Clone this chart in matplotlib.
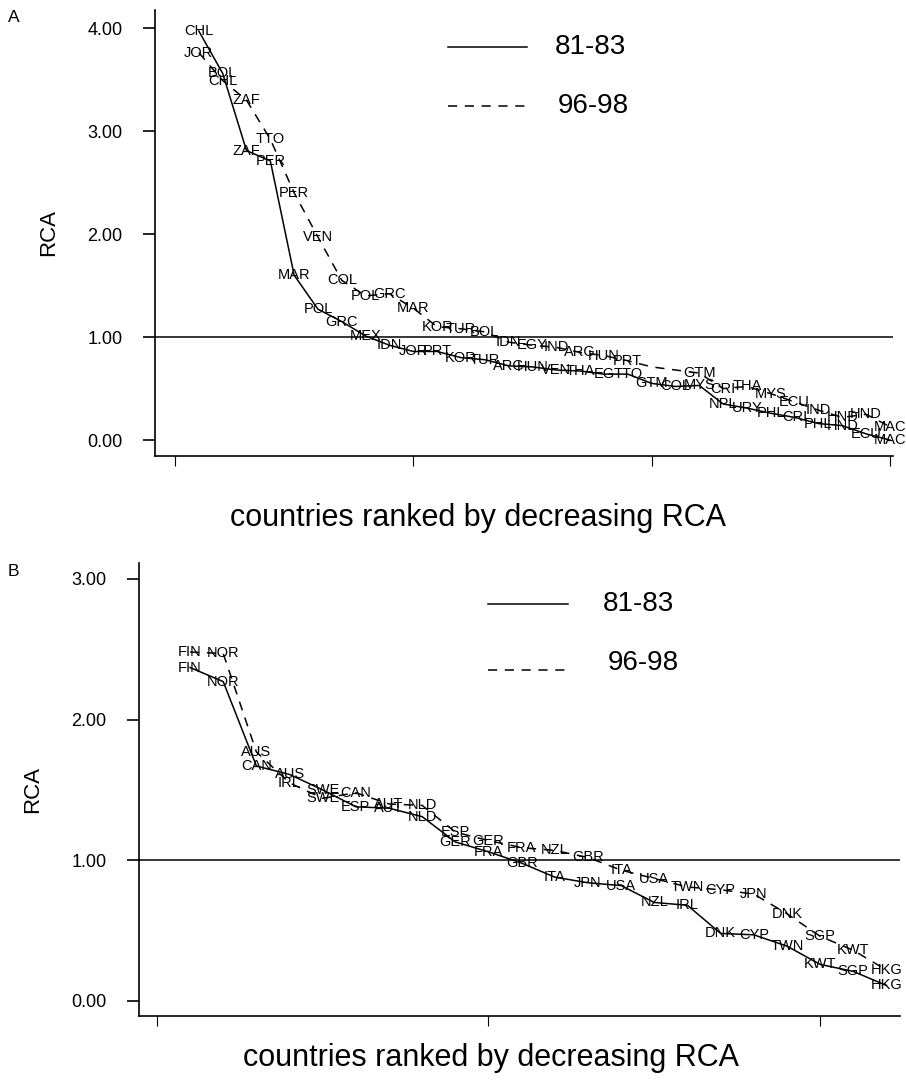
import matplotlib
matplotlib.use("Agg")
import matplotlib.pyplot as plt
from matplotlib.lines import Line2D
from matplotlib.ticker import FormatStrFormatter

plt.rcParams["font.family"] = ["Liberation Sans", "DejaVu Sans"]

# Panel A: länder nach RCA sortiert, 81-83 (durchgezogen) und 96-98 (gestrichelt)
a_names_81 = ["CHL", "BOL", "ZAF", "PER", "MAR", "POL", "GRC", "MEX", "IDN", "JOR",
              "PRT", "KOR", "TUR", "ARG", "HUN", "VEN", "THA", "EG", "TTO", "GTM",
              "COL", "MYS", "NPL", "URY", "PHL", "CRI", "PHL", "HND", "ECU", "MAC"]
a_rca_81 = [3.97, 3.56, 2.81, 2.71, 1.60, 1.27, 1.15, 1.01, 0.92, 0.86,
            0.86, 0.80, 0.78, 0.72, 0.71, 0.68, 0.67, 0.64, 0.64, 0.55,
            0.52, 0.53, 0.35, 0.31, 0.26, 0.22, 0.16, 0.14, 0.06, 0.00]
a_names_96 = ["JOR", "CHL", "ZAF", "TTO", "PER", "VEN", "COL", "POL", "GRC", "MAR",
              "KOR", "TUR", "BOL", "IDN", "EGY", "IND", "ARG", "HUN", "PRT", "",
              "", "GTM", "CRI", "THA", "MYS", "ECU", "IND", "HND", "HND", "MAC"]
a_rca_96 = [3.76, 3.49, 3.30, 2.92, 2.40, 1.97, 1.55, 1.40, 1.42, 1.28,
            1.10, 1.08, 1.05, 0.95, 0.92, 0.90, 0.85, 0.82, 0.77, 0.71,
            0.68, 0.65, 0.50, 0.52, 0.45, 0.37, 0.29, 0.22, 0.25, 0.13]

# Panel B
b_names_81 = ["FIN", "NOR", "CAN", "AUS", "SWE", "ESP", "AUT", "NLD", "GER", "FRA", "GBR",
              "ITA", "JPN", "USA", "NZL", "IRL", "DNK", "CYP", "TWN", "KWT", "SGP", "HKG"]
b_rca_81 = [2.37, 2.27, 1.67, 1.61, 1.50, 1.38, 1.37, 1.31, 1.13, 1.06, 0.98,
            0.88, 0.84, 0.82, 0.70, 0.68, 0.48, 0.47, 0.39, 0.26, 0.21, 0.11]
b_names_96 = ["FIN", "NOR", "AUS", "IRL", "SWE", "CAN", "AUT", "NLD", "ESP", "GER", "FRA",
              "NZL", "GBR", "ITA", "USA", "TWN", "CYP", "JPN", "DNK", "SGP", "KWT", "HKG"]
b_rca_96 = [2.48, 2.47, 1.77, 1.55, 1.44, 1.48, 1.40, 1.39, 1.20, 1.14, 1.09,
            1.07, 1.02, 0.93, 0.87, 0.81, 0.79, 0.76, 0.62, 0.46, 0.36, 0.22]

W, H = 906, 1083


def fx(x):
    return x / W


def fy(y):
    return 1 - y / H


def panel(rect, xlim, ylim, yticks, xticks, series):
    left, top, right, bottom = rect
    ax = fig.add_axes([fx(left), fy(bottom), fx(right - left), (bottom - top) / H])
    ax.set_xlim(*xlim)
    ax.set_ylim(*ylim)
    for s in ("top", "right"):
        ax.spines[s].set_visible(False)
    for s in ("left", "bottom"):
        ax.spines[s].set_linewidth(1.2)
    ax.set_yticks(yticks)
    ax.yaxis.set_major_formatter(FormatStrFormatter("%.2f"))
    ax.tick_params(axis="y", length=8.5, width=1.2, pad=15, labelsize=13)
    ax.set_xticks(xticks)
    ax.set_xticklabels([])
    ax.tick_params(axis="x", length=7, width=0.8)
    ax.axhline(1.0, color="black", lw=1.1)
    for names, vals, ls in series:
        ranks = list(range(1, len(vals) + 1))
        ax.plot(ranks, vals, color="black", lw=1.1, linestyle=ls)
        for r, v, n in zip(ranks, vals, names):
            if n:
                ax.text(r, v, n, ha="center", va="center", fontsize=10.5)
    ax.set_ylabel("RCA", fontsize=16, labelpad=20)
    return ax


def legend(x0, x1, y_solid, y_dash, tx_solid, tx_dash, ty_solid, ty_dash):
    fig.add_artist(Line2D([fx(x0), fx(x1)], [fy(y_solid)] * 2, color="black", lw=1.1))
    fig.add_artist(Line2D([fx(x0), fx(x1)], [fy(y_dash)] * 2, color="black", lw=1.1,
                          linestyle=(0, (6, 5))))
    fig.text(fx(tx_solid), fy(ty_solid), "81-83", fontsize=20, va="center")
    fig.text(fx(tx_dash), fy(ty_dash), "96-98", fontsize=20, va="center")


fig = plt.figure(figsize=(W / 100, H / 100), dpi=100)
dash = (0, (6, 5))

# A: x-Ticks bei 175/413/652/890 px, y=0 bei 440 px, 103 px pro Einheit
ax_a = panel((155, 10, 893, 456), (-0.84, 30.13), (-0.155, 4.175), [0, 1, 2, 3, 4], [0, 10, 20, 30],
             [(a_names_81, a_rca_81, "-"), (a_names_96, a_rca_96, dash)])
# B: x-Ticks bei 157/487/820 px, y=0 bei 1001 px, 140.7 px pro Einheit
ax_b = panel((139, 563, 900, 1016), (-0.54, 22.41), (-0.107, 3.113), [0, 1, 2, 3], [0, 10, 20],
             [(b_names_81, b_rca_81, "-"), (b_names_96, b_rca_96, dash)])

legend(448, 527, 47, 106, 555, 558, 47, 106)
legend(488, 568, 604, 670, 603, 608, 604, 663)

fig.text(fx(478), fy(518), "countries ranked by decreasing RCA", fontsize=22, ha="center", va="center")
fig.text(fx(491), fy(1058), "countries ranked by decreasing RCA", fontsize=22, ha="center", va="center")
fig.text(fx(14), fy(17), "A", fontsize=12.5, ha="center", va="center")
fig.text(fx(13), fy(572), "B", fontsize=12.5, ha="center", va="center")

fig.savefig("out.png", dpi=100)
